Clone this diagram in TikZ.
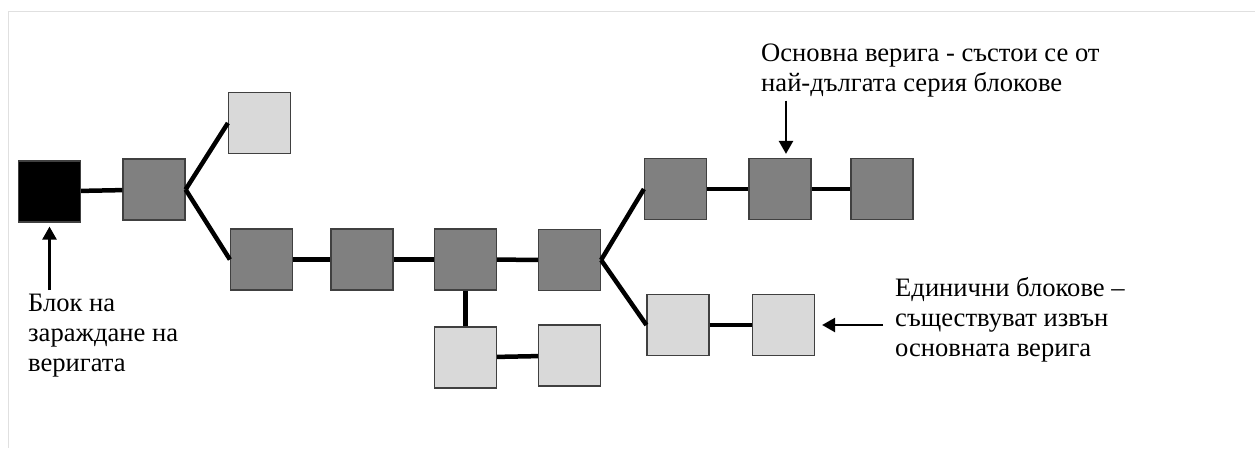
\documentclass[tikz,border=0pt]{standalone}
\usepackage{fontspec}
\setmainfont{Liberation Serif}
\usetikzlibrary{arrows.meta}

\begin{document}
\begin{tikzpicture}[x=1pt, y=-1pt, auto,
    block/.style ={draw=black!75, line width=1.2pt, minimum width=62pt, minimum height=61pt, inner sep=0pt},
    genesis/.style ={block, fill=black},
    mainblock/.style ={block, fill=gray},
    orphan/.style ={block, fill=black!15},
    link/.style ={line width=4.5pt},
    pointer/.style ={line width=2.5pt, -{Triangle[length=13pt,width=14pt]}},
    caption/.style ={font=\fontsize{26.6}{30}\selectfont, align=left, inner sep=0pt}]
   \useasboundingbox (0,0) rectangle (1255,448);
   \draw[black!12, line width=1pt] (8,448) |- (1255,11.5);
   % blocks
   \node[genesis] (G) at (49.5,191.5) {};
   \node[mainblock] (A1) at (154,189.5) {};
   \node[orphan] (S1) at (259.5,123) {};
   \node[mainblock] (A2) at (261.5,259.5) {};
   \node[mainblock] (A3) at (362,259.5) {};
   \node[mainblock] (A4) at (465.5,259.5) {};
   \node[mainblock] (A5) at (569.5,260) {};
   \node[orphan] (S2) at (465.5,357.5) {};
   \node[orphan] (S3) at (569.5,355.5) {};
   \node[orphan] (S4) at (678,325) {};
   \node[orphan] (S5) at (783.5,325) {};
   \node[mainblock] (A6) at (675.5,189) {};
   \node[mainblock] (A7) at (780,189) {};
   \node[mainblock] (A8) at (882,189) {};
   % links
   \draw[link] (G) to (A1);
   \draw[link] (A1.east) to (S1.west);
   \draw[link] (A1.east) to (A2.west);
   \draw[link] (A2) to (A3);
   \draw[link] (A3) to (A4);
   \draw[link] (A4) to (A5);
   \draw[link] (A4) to (S2);
   \draw[link] (S2) to (S3);
   \draw[link] (A5.east) to (A6.west);
   \draw[link] (A5.east) to (S4.west);
   \draw[link] (S4) to (S5);
   \draw[link] (A6) to (A7);
   \draw[link] (A7) to (A8);
   % captions
   \node[caption, anchor=north west] (seedtext) at (28,294) {Блок на\\зараждане на\\веригата};
   \node[caption, anchor=north west] (maintext) at (761,44) {Основна верига - състои се от\\най-дългата серия блокове};
   \node[caption, anchor=north west] (orphantext) at (895,277) {Единични блокове –\\съществуват извън\\основната верига};
   \draw[pointer, shorten <=4pt, shorten >=4pt] (G |- seedtext.north) to (G);
   \draw[pointer, shorten <=3pt, shorten >=4pt] ([xshift=6pt]A7.north |- maintext.south) to ([xshift=6pt]A7.north);
   \draw[pointer, shorten <=12pt, shorten >=7pt] (orphantext.west |- S5) to (S5);
 \end{tikzpicture}
\end{document}
